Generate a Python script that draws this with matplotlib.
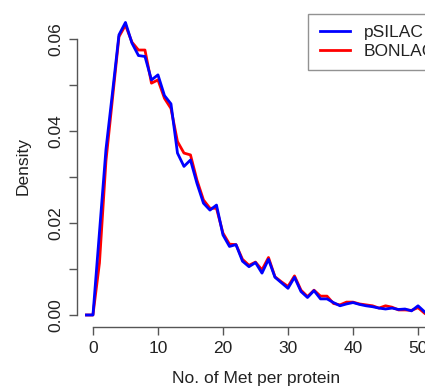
import matplotlib
matplotlib.use("Agg")
import matplotlib.pyplot as plt
import numpy as np

plt.rcParams['font.family'] = ['Liberation Sans', 'DejaVu Sans']

met_counts = list(range(-1, 52))
psilac = [0, 0, 0.0180, 0.0360, 0.0483, 0.0609, 0.0636, 0.0591, 0.0564, 0.0562,
          0.0511, 0.0522, 0.0477, 0.0459, 0.0352, 0.0323, 0.0337, 0.0286, 0.0243,
          0.0228, 0.0239, 0.0174, 0.0149, 0.0153, 0.0117, 0.0105, 0.0114, 0.0091,
          0.0121, 0.0082, 0.0070, 0.0058, 0.0082, 0.0051, 0.0038, 0.0053, 0.0035,
          0.0035, 0.0027, 0.0020, 0.0024, 0.0027, 0.0023, 0.0020, 0.0018, 0.0015,
          0.0013, 0.0015, 0.0012, 0.0013, 0.0009, 0.0020, 0.0007]
bonlac = [0, 0, 0.0113, 0.0335, 0.0470, 0.0605, 0.0630, 0.0593, 0.0576, 0.0576,
          0.0504, 0.0511, 0.0471, 0.0449, 0.0377, 0.0352, 0.0348, 0.0293, 0.0250,
          0.0232, 0.0232, 0.0178, 0.0154, 0.0153, 0.0121, 0.0108, 0.0115, 0.0098,
          0.0125, 0.0083, 0.0072, 0.0062, 0.0085, 0.0054, 0.0040, 0.0054, 0.0041,
          0.0041, 0.0025, 0.0022, 0.0028, 0.0028, 0.0024, 0.0022, 0.0020, 0.0015,
          0.0020, 0.0017, 0.0011, 0.0011, 0.0010, 0.0016, 0.0004]
series_labels = ["pSILAC", "BONLAC"]
x_ticks = [0, 10, 20, 30, 40, 50]
y_ticks = [0.00, 0.01, 0.02, 0.03, 0.04, 0.05, 0.06]
y_ticklabels = ["0.00", "", "0.02", "", "0.04", "", "0.06"]

FS = 12.5
W, H = 425, 388
fig = plt.figure(figsize=(W / 100, H / 100), dpi=100)
left_px, right_px, top_px, bottom_px = 76.7, 445, 13, 327
ax = fig.add_axes([left_px / W, (H - bottom_px) / H,
                   (right_px - left_px) / W, (bottom_px - top_px) / H])

l_red, = ax.plot(met_counts, bonlac, color='#ff0000', lw=2.0, label=series_labels[1])
l_blue, = ax.plot(met_counts, psilac, color='#0000ff', lw=2.0, label=series_labels[0])

ax.set_xlim(-2.5, 54.15)
ax.set_ylim(-0.00261, 0.06565)

for s in ['top', 'right']:
    ax.spines[s].set_visible(False)
axis_col = '#555555'
ax.spines['left'].set_bounds(0, 0.06)
ax.spines['bottom'].set_bounds(0, 60)
for s in ['left', 'bottom']:
    ax.spines[s].set_color(axis_col)
    ax.spines[s].set_linewidth(1.0)

ax.set_xticks(x_ticks)
ax.set_xticklabels([str(v) for v in x_ticks])
ax.set_yticks(y_ticks)
ax.set_yticklabels(y_ticklabels, rotation=90, va='center')
ax.tick_params(axis='both', length=5.5, width=1.0, color=axis_col,
               labelsize=FS, labelcolor='#222222')
ax.tick_params(axis='x', pad=4.5)
ax.tick_params(axis='y', pad=4)

fig.text(256 / W, 1 - 378 / H, "No. of Met per protein", ha='center', va='center',
         fontsize=FS, color='#222222')
fig.text(23 / W, 1 - 166 / H, "Density", ha='center', va='center', rotation=90,
         fontsize=FS, color='#222222')

leg = ax.legend(handles=[l_blue, l_red], labels=series_labels,
                loc='upper left', bbox_to_anchor=(308.3 / W, 1 - 14 / H),
                bbox_transform=fig.transFigure, fontsize=FS, frameon=True,
                fancybox=False, borderaxespad=0, borderpad=0.65,
                handlelength=1.73, handletextpad=0.8, labelspacing=0.18)
leg.get_frame().set_edgecolor('#777777')
leg.get_frame().set_linewidth(1.0)
for t in leg.get_texts():
    t.set_color('#222222')

fig.savefig("out.png", dpi=100)
